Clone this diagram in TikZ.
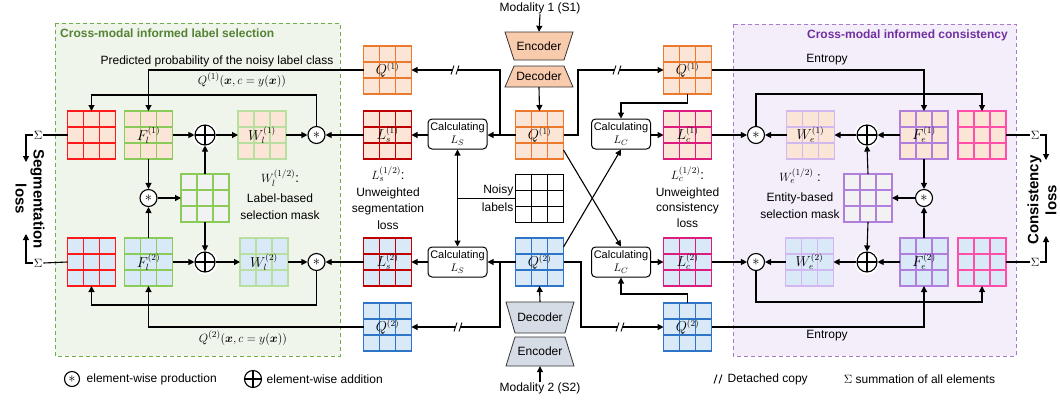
\documentclass[tikz,border=0pt]{standalone}
\usepackage{bm}
\usepackage[no-math]{fontspec}
\setmainfont{Liberation Sans}
\usetikzlibrary{calc,arrows.meta}
\definecolor{peach}{HTML}{FBE5D6}
\definecolor{bluef}{HTML}{DAE9F8}
\definecolor{grayf}{HTML}{F2F2F2}
\definecolor{redb}{HTML}{FF1A1A}
\definecolor{dredb}{HTML}{C00000}
\definecolor{orangeb}{HTML}{EB7A2E}
\definecolor{blueb}{HTML}{2E75C8}
\definecolor{greenb}{HTML}{8BCB5A}
\definecolor{lgreenb}{HTML}{B9DFA0}
\definecolor{purpb}{HTML}{B07FDB}
\definecolor{lpurpb}{HTML}{D2B8F0}
\definecolor{magb}{HTML}{DC1C7E}
\definecolor{pinkb}{HTML}{FF4FA8}
\definecolor{gborder}{HTML}{70AD47}
\definecolor{gfill}{HTML}{EFF5EA}
\definecolor{gtitle}{HTML}{548235}
\definecolor{pborder}{HTML}{A77BCA}
\definecolor{pfill}{HTML}{F4EEFA}
\definecolor{ptitle}{HTML}{7030A0}
\definecolor{encA}{HTML}{F8CBAD}
\definecolor{encB}{HTML}{D6DCE5}
\newcommand{\mygrid}[6]{%
  \node[gridbox, draw=#4, fill=#5] (#1) at (#2,#3) {};
  \draw[draw=#4, line width=1.4pt]
    ($(#1.north west)!1/3!(#1.north east)$) -- ($(#1.south west)!1/3!(#1.south east)$)
    ($(#1.north west)!2/3!(#1.north east)$) -- ($(#1.south west)!2/3!(#1.south east)$)
    ($(#1.north west)!1/3!(#1.south west)$) -- ($(#1.north east)!1/3!(#1.south east)$)
    ($(#1.north west)!2/3!(#1.south west)$) -- ($(#1.north east)!2/3!(#1.south east)$);
  \node[gridlabel] (#1-t) at (#1.center) {#6};
}
\newcommand{\detach}[1]{%
  \fill[white] ($(#1)+(-4,4.5)$) -- ($(#1)+(-1,-4.5)$) -- ($(#1)+(4,-4.5)$) -- ($(#1)+(1,4.5)$) -- cycle;
  \draw[line width=0.9pt] ($(#1)+(-4,4.5)$) -- ($(#1)+(-1,-4.5)$) ($(#1)+(1,4.5)$) -- ($(#1)+(4,-4.5)$);
}
\tikzset{
  gridbox/.style={rectangle, minimum width=48pt, minimum height=48pt, inner sep=0pt, outer sep=0pt, line width=1.4pt},
  gridlabel/.style={inner sep=0pt, font=\fontsize{13.5}{15}\selectfont},
  arr/.style={line width=1.1pt, -{Triangle[length=6pt,width=6pt]}},
  ln/.style={line width=1.1pt},
  mulop/.style={circle, draw, fill=white, line width=1.1pt, minimum size=17pt, inner sep=0pt, font=\fontsize{15}{16}\selectfont},
  addop/.style={circle, draw, fill=white, line width=1.1pt, minimum size=20pt, inner sep=0pt,
    preaction={draw=white, line width=5pt},
    path picture={\draw[line width=1.1pt] (path picture bounding box.north) -- (path picture bounding box.south)
      (path picture bounding box.west) -- (path picture bounding box.east);}},
  calcbox/.style={draw, rounded corners=4pt, fill=white, line width=1pt, minimum width=59pt, minimum height=30pt,
    inner sep=1pt, align=center, font=\fontsize{11}{12.5}\selectfont},
  txt/.style={inner sep=0.5pt, font=\fontsize{12}{14}\selectfont},
  mtxt/.style={inner sep=0.5pt, font=\fontsize{13}{14}\selectfont},
  sig/.style={inner sep=1pt, font=\fontsize{13}{14}\selectfont},
  losstxt/.style={font=\bfseries\fontsize{15}{18}\selectfont, align=center, inner sep=0pt},
  ttl/.style={font=\bfseries\fontsize{12}{14}\selectfont, inner sep=0pt},
  trapA/.style={fill=encA, draw=black!80, line width=0.8pt},
  trapB/.style={fill=encB, draw=black!80, line width=0.8pt},
  enctxt/.style={inner sep=0pt, font=\fontsize{12}{14}\selectfont, minimum width=50pt},
}
\begin{document}
\begin{tikzpicture}[x=1pt,y=-1pt]
\useasboundingbox (0,0) rectangle (1060,400);
% panels
\draw[dash pattern=on 4pt off 3pt, draw=gborder, fill=gfill, line width=0.9pt] (55,23) rectangle (340,356);
\draw[dash pattern=on 4pt off 3pt, draw=pborder, fill=pfill, line width=0.9pt] (733,24) rectangle (1016,356);
\node[ttl, anchor=west, text=gtitle] (gtitle) at (60,33) {Cross-modal informed label selection};
\node[ttl, anchor=east, text=ptitle] (ptitle) at (1008,35) {Cross-modal informed consistency};

% grids
\mygrid{RG1}{91.5}{135}{redb}{peach}{}
\mygrid{FL1}{148.5}{135}{greenb}{peach}{$F_l^{(1)}$}
\mygrid{WL1}{262}{135}{lgreenb}{peach}{$W_l^{(1)}$}
\mygrid{RG2}{91.5}{262}{redb}{bluef}{}
\mygrid{FL2}{148.5}{262}{greenb}{bluef}{$F_l^{(2)}$}
\mygrid{WL2}{264}{262}{lgreenb}{bluef}{$W_l^{(2)}$}
\mygrid{MASKL}{205}{198}{greenb}{grayf}{}
\mygrid{QL1}{387.5}{70}{orangeb}{peach}{$Q^{(1)}$}
\mygrid{LS1}{387.5}{135}{dredb}{peach}{$L_s^{(1)}$}
\mygrid{LS2}{387.5}{262}{dredb}{bluef}{$L_s^{(2)}$}
\mygrid{QL2}{387.5}{327}{blueb}{bluef}{$Q^{(2)}$}
\mygrid{QC1}{539.5}{135}{orangeb}{peach}{$Q^{(1)}$}
\mygrid{QC2}{539.5}{262}{blueb}{bluef}{$Q^{(2)}$}
\mygrid{NL}{539.5}{198.5}{black}{white}{}
\mygrid{QR1}{687.5}{70}{orangeb}{peach}{$Q^{(1)}$}
\mygrid{LC1}{687.5}{135}{magb}{peach}{$L_c^{(1)}$}
\mygrid{LC2}{687.5}{262}{magb}{bluef}{$L_c^{(2)}$}
\mygrid{QR2}{687.5}{327}{blueb}{bluef}{$Q^{(2)}$}
\mygrid{WE1}{810.5}{135}{lpurpb}{peach}{$W_e^{(1)}$}
\mygrid{WE2}{809.5}{262}{lpurpb}{bluef}{$W_e^{(2)}$}
\mygrid{FE1}{924}{135}{purpb}{peach}{$F_e^{(1)}$}
\mygrid{FE2}{924}{262}{purpb}{bluef}{$F_e^{(2)}$}
\mygrid{PG1}{982}{135}{pinkb}{peach}{}
\mygrid{PG2}{982}{262}{pinkb}{bluef}{}
\mygrid{MASKR}{868}{198}{purpb}{grayf}{}

% operators
\node[mulop] (ML1) at (316.5,135) {$\ast$};
\node[mulop] (ML2) at (316.5,262) {$\ast$};
\node[mulop] (MS1) at (148.5,198) {$\ast$};
\node[addop] (OP1) at (205,135) {};
\node[addop] (OP2) at (205,262) {};
\node[mulop] (MR1) at (756,135) {$\ast$};
\node[mulop] (MR2) at (756,262) {$\ast$};
\node[mulop] (MSR) at (924,198) {$\ast$};
\node[addop] (OPR1) at (867,135) {};
\node[addop] (OPR2) at (867,262) {};

% sigma
\node[sig] (SigL1) at (38,135) {$\Sigma$};
\node[sig] (SigL2) at (38,263) {$\Sigma$};
\node[sig] (SigR1) at (1035,135) {$\Sigma$};
\node[sig] (SigR2) at (1035,262) {$\Sigma$};
\node[losstxt, rotate=-90] (segloss) at (30,199) {Segmentation\\loss};
\node[losstxt, rotate=90] (conloss) at (1042,200) {Consistency\\loss};

% calc boxes
\node[calcbox] (CS1) at (457.5,134) {Calculating\\$L_S$};
\node[calcbox] (CS2) at (457.5,262) {Calculating\\$L_S$};
\node[calcbox] (CC1) at (621,134) {Calculating\\$L_C$};
\node[calcbox] (CC2) at (621,262) {Calculating\\$L_C$};

% encoders / decoders
\filldraw[trapA] (505,32) -- (573,32) -- (564,60) -- (514,60) -- cycle;
\filldraw[trapA] (514,66) -- (564,66) -- (573,87) -- (505,87) -- cycle;
\filldraw[trapB] (506,302) -- (574,302) -- (565,333) -- (515,333) -- cycle;
\filldraw[trapB] (515,337) -- (565,337) -- (574,366) -- (506,366) -- cycle;
\node[enctxt, minimum height=28pt] (enc1) at (539,46) {Encoder};
\node[enctxt, minimum height=21pt] (dec1) at (539,76.5) {Decoder};
\node[enctxt, minimum height=31pt] (dec2) at (540,317.5) {Decoder};
\node[enctxt, minimum height=29pt] (enc2) at (540,351.5) {Encoder};
\node[txt] (mod1) at (540,8) {Modality 1 (S1)};
\node[txt] (mod2) at (540,388) {Modality 2 (S2)};

% texts
\node[txt] (predt) at (217,61) {Predicted probability of the noisy label class};
\node[mtxt] (qf1) at (242,80) {$Q^{(1)}(\bm{x}, c = y(\bm{x}))$};
\node[mtxt] (qf2) at (243,338) {$Q^{(2)}(\bm{x}, c = y(\bm{x}))$};
\node[mtxt] (wllab1) at (280,178) {$W_l^{(1/2)}$:};
\node[txt] (wllab2) at (280,198) {Label-based};
\node[txt] (wllab3) at (280,215) {selection mask};
\node[mtxt] (welab1) at (800,176) {$W_e^{(1/2)}$ :};
\node[txt] (welab2) at (800,198) {Entity-based};
\node[txt] (welab3) at (800,214) {selection mask};
\node[mtxt] (lslab1) at (388,174) {$L_s^{(1/2)}$:};
\node[txt] (lslab2) at (388,193) {Unweighted};
\node[txt] (lslab3) at (388,209) {segmentation};
\node[txt] (lslab4) at (388,225) {loss};
\node[mtxt] (lclab1) at (687.5,174) {$L_c^{(1/2)}$:};
\node[txt] (lclab2) at (687.5,193) {Unweighted};
\node[txt] (lclab3) at (687.5,208) {consistency};
\node[txt] (lclab4) at (687.5,223) {loss};
\node[txt, anchor=east] (noisyt) at (514,190) {Noisy};
\node[txt, anchor=east] (labelst) at (514,207) {labels};
\node[txt] (ent1) at (827,60) {Entropy};
\node[txt] (ent2) at (827,336) {Entropy};

% ---- left panel connectors
\coordinate (lt) at (0,95);
\coordinate (lb) at (0,305);
\coordinate (segend1) at (26,162);
\coordinate (segend2) at (26,234);
\draw[arr] (QL1.west) -| (FL1.north);
\draw[arr] (FL1.east) -- (OP1.west);
\draw[arr] (OP1.east) -- (WL1.west);
\draw[arr] (WL1.east) -- (ML1.west);
\draw[arr] (LS1.west) -- (ML1.east);
\draw[arr] (ML1.north) -- (ML1.north |- lt) -| (RG1.north);
\draw[ln] (SigL1.east) -- (RG1.west);
\draw[arr] (SigL1.west) -| (segend1);
\draw[arr] (FL1.south) -- (MS1.north);
\draw[arr] (FL2.north) -- (MS1.south);
\draw[arr] (MS1.east) -- (MASKL.west);
\draw[arr] (MASKL.north) -- (OP1.south);
\draw[arr] (MASKL.south) -- (OP2.north);
\draw[arr] (FL2.east) -- (OP2.west);
\draw[arr] (OP2.east) -- (WL2.west);
\draw[arr] (WL2.east) -- (ML2.west);
\draw[arr] (LS2.west) -- (ML2.east);
\draw[arr] (ML2.south) -- (ML2.south |- lb) -| (RG2.south);
\draw[arr] (QL2.west) -| (FL2.south);
\draw[ln] (SigL2.east) -- (RG2.west);
\draw[arr] (SigL2.west) -| (segend2);

% ---- centre connectors
\coordinate (b1) at (500,135);
\coordinate (b2) at (578,135);
\coordinate (b3) at (500,262);
\coordinate (b4) at (581,262);
\coordinate (j1) at (0,103);
\coordinate (j2) at (0,294);
\coordinate (nj) at (457.5,198.5);
\draw[arr] (mod1.south) -- (enc1.north);
\draw[arr] (dec1.south) -- (QC1.north);
\draw[arr] (QC1.west) -- (QC1.west -| CS1.east);
\draw[arr] (b1) |- (QL1.east);
\draw[arr] (CS1.west |- LS1.east) -- (LS1.east);
\draw[arr] (QC1.east) -- (b2) |- (QR1.west);
\draw[arr] (QR1.south) -- (QR1.south |- j1) -| (CC1.north);
\draw[arr] (CC1.east |- LC1.west) -- (LC1.west);
\draw[arr] ([yshift=-15pt]QC1.east) -- (CC2.north);
\draw[arr] ([yshift=15pt]QC2.east) -- (CC1.south);
\draw[ln] (NL.west) -- (nj);
\draw[arr] (nj) -- (CS1.south);
\draw[arr] (nj) -- (CS2.north);
\draw[arr] (QC2.west) -- (CS2.east);
\draw[arr] (b3) |- (QL2.east);
\draw[arr] (CS2.west) -- (LS2.east);
\draw[arr] (QC2.east) -- (b4) |- (QR2.west);
\draw[arr] (QR2.north) -- (QR2.north |- j2) -| (CC2.south);
\draw[arr] (CC2.east) -- (LC2.west);
\draw[arr] (dec2.north) -- (QC2.south);
\draw[arr] (mod2.north) -- (enc2.south);
\coordinate (d1) at (455,70);
\coordinate (d2) at (617,70);
\coordinate (d3) at (458,327);
\coordinate (d4) at (620,327);
\detach{d1}
\detach{d2}
\detach{d3}
\detach{d4}

% ---- right panel connectors
\coordinate (rt) at (0,94);
\coordinate (rb) at (0,302);
\coordinate (conend1) at (1046,160);
\coordinate (conend2) at (1046,236);
\draw[arr] (QR1.east) -| (FE1.north);
\draw[arr] (LC1.east) -- (MR1.west);
\draw[arr] (WE1.west) -- (MR1.east);
\draw[arr] (OPR1.west) -- (WE1.east);
\draw[arr] (FE1.west) -- (OPR1.east);
\draw[arr] (MR1.north) -- (MR1.north |- rt) -| (PG1.north);
\draw[ln] (PG1.east) -- (SigR1.west);
\draw[arr] (SigR1.east) -| (conend1);
\draw[arr] (FE1.south) -- (MSR.north);
\draw[arr] (FE2.north) -- (MSR.south);
\draw[arr] (MSR.west) -- (MASKR.east);
\draw[arr] (MASKR.north) -- (OPR1.south);
\draw[arr] (MASKR.south) -- (OPR2.north);
\draw[arr] (LC2.east) -- (MR2.west);
\draw[arr] (WE2.west) -- (MR2.east);
\draw[arr] (OPR2.west) -- (WE2.east);
\draw[arr] (FE2.west) -- (OPR2.east);
\draw[arr] (MR2.south) -- (MR2.south |- rb) -| (PG2.south);
\draw[arr] (QR2.east) -| (FE2.south);
\draw[ln] (PG2.east) -- (SigR2.west);
\draw[arr] (SigR2.east) -| (conend2);

% ---- legend
\node[mulop, minimum size=15pt] (lgm) at (72,379) {$\ast$};
\node[txt, anchor=west] (lgmt) at (86,379) {element-wise production};
\node[addop, minimum size=17pt] (lga) at (253,379) {};
\node[txt, anchor=west] (lgat) at (266,379) {element-wise addition};
\coordinate (lgd) at (718,379);
\detach{lgd}
\node[txt, anchor=west] (lgdt) at (727,379) {Detached copy};
\node[sig] (lgs) at (848,379) {$\Sigma$};
\node[txt, anchor=west] (lgst) at (855,379) {summation of all elements};
\end{tikzpicture}
\end{document}
